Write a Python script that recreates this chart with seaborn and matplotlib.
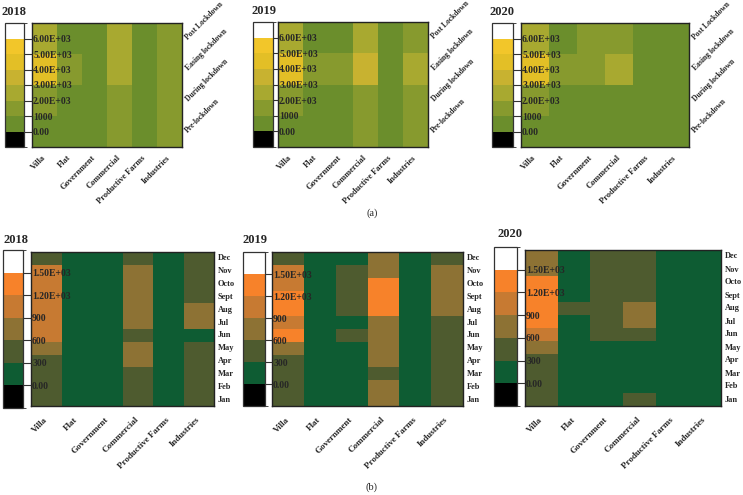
import numpy as np
import pandas as pd
import matplotlib
matplotlib.use("Agg")
import matplotlib.pyplot as plt
from matplotlib.colors import ListedColormap, BoundaryNorm
import seaborn as sns

sns.set_style("white")
plt.rcParams['font.family'] = ['Liberation Serif', 'DejaVu Serif']

# categories
uses = ["Villa", "Flat", "Government", "Commercial", "Productive Farms", "Industries"]
phases = ["Post Lockdown", "Easing lockdown", "During lockdown", "Pre-lockdown"]
months = ["Dec", "Nov", "Octo", "Sept", "Aug", "Jul", "Jun", "May", "Apr", "Mar", "Feb", "Jan"]

# (a) values per lockdown phase (rows top -> bottom)
phase_2018 = [[2500, 500, 500, 2500, 500, 1500],
              [4500, 1500, 500, 2500, 500, 1500],
              [1500, 500, 500, 1500, 500, 1500],
              [500, 500, 500, 1500, 500, 1500]]
phase_2019 = [[2500, 500, 500, 2500, 500, 1500],
              [4500, 1500, 1500, 3500, 500, 2500],
              [1500, 500, 500, 1500, 500, 1500],
              [500, 500, 500, 1500, 500, 1500]]
phase_2020 = [[2500, 500, 1500, 1500, 500, 500],
              [4500, 1500, 1500, 2500, 500, 500],
              [1500, 500, 500, 500, 500, 500],
              [500, 500, 500, 500, 500, 500]]

# (b) values per month (rows Dec -> Jan)
month_2018 = [[450, 150, 150, 450, 150, 450],
              [1050, 150, 150, 750, 150, 450],
              [1050, 150, 150, 750, 150, 450],
              [1050, 150, 150, 750, 150, 450],
              [1050, 150, 150, 750, 150, 750],
              [1050, 150, 150, 750, 150, 750],
              [1050, 150, 150, 450, 150, 150],
              [750, 150, 150, 750, 150, 450],
              [450, 150, 150, 750, 150, 450],
              [450, 150, 150, 450, 150, 450],
              [450, 150, 150, 450, 150, 450],
              [450, 150, 150, 450, 150, 450]]
month_2019 = [[450, 150, 150, 750, 150, 450],
              [1050, 150, 450, 750, 150, 750],
              [1050, 150, 450, 1350, 150, 750],
              [1350, 150, 450, 1350, 150, 750],
              [1350, 150, 450, 1350, 150, 750],
              [1050, 150, 150, 750, 150, 450],
              [1350, 150, 450, 750, 150, 450],
              [750, 150, 150, 750, 150, 450],
              [450, 150, 150, 750, 150, 450],
              [450, 150, 150, 450, 150, 450],
              [450, 150, 150, 750, 150, 450],
              [450, 150, 150, 750, 150, 450]]
month_2020 = [[750, 150, 450, 450, 150, 150],
              [750, 150, 450, 450, 150, 150],
              [1350, 150, 450, 450, 150, 150],
              [1350, 150, 450, 450, 150, 150],
              [1350, 450, 450, 750, 150, 150],
              [1350, 150, 450, 750, 150, 150],
              [1050, 150, 450, 450, 150, 150],
              [750, 150, 150, 150, 150, 150],
              [450, 150, 150, 150, 150, 150],
              [450, 150, 150, 150, 150, 150],
              [450, 150, 150, 150, 150, 150],
              [450, 150, 150, 450, 150, 150]]

# colour scales
top_colors = ['#000000', '#6b8e2c', '#879a2e', '#a8a930', '#c8b230', '#e3bf26', '#f2c62a', '#ffffff']
top_bounds = [-1000, 0, 1000, 2000, 3000, 4000, 5000, 6000, 7000]
top_ticks = [0, 1000, 2000, 3000, 4000, 5000, 6000]
top_ticklabels = ["0.00", "1000", "2.00E+03", "3.00E+03", "4.00E+03", "5.00E+03", "6.00E+03"]

bot_colors = ['#000000', '#0e5c33', '#4e5b2f', '#8d7234', '#c77a32', '#f7822a', '#ffffff']
bot_bounds = [-300, 0, 300, 600, 900, 1200, 1500, 1800]
bot_ticks = [0, 300, 600, 900, 1200, 1500]
bot_ticklabels = ["0.00", "300", "600", "900", "1.20E+03", "1.50E+03"]

W, H = 743, 495
fig = plt.figure(figsize=(W / 100, H / 100), dpi=100)


def rect(x0, y0, x1, y1):
    return [x0 / W, 1 - y1 / H, (x1 - x0) / W, (y1 - y0) / H]


def panel(hm_box, cb_box, data, rows, colors, bounds, ticks, ticklabels, title, title_xy, top):
    ax = fig.add_axes(rect(*hm_box))
    cax = fig.add_axes(rect(*cb_box))
    cmap = ListedColormap(colors)
    norm = BoundaryNorm(bounds, cmap.N)
    df = pd.DataFrame(data, index=rows, columns=uses)
    sns.heatmap(df, ax=ax, cbar_ax=cax, cmap=cmap, norm=norm,
                xticklabels=True, yticklabels=True)
    for s in ax.spines.values():
        s.set_visible(True)
        s.set_color('#222222')
        s.set_linewidth(1.0)
    ax.yaxis.tick_right()
    if top:
        ax.set_xticklabels(uses, rotation=45, ha='right', va='center',
                           rotation_mode='anchor', fontsize=6, fontweight='bold')
        ax.set_yticklabels(rows, rotation=45, ha='left', va='center',
                           rotation_mode='anchor', fontsize=5.5, fontweight='bold')
        ax.tick_params(axis='y', length=0, pad=3.5)
        ax.tick_params(axis='x', length=0, pad=7)
    else:
        ax.set_xticklabels(uses, rotation=45, ha='right', va='center',
                           rotation_mode='anchor', fontsize=6.5, fontweight='bold')
        ax.set_yticklabels(rows, rotation=0, ha='left', va='center',
                           fontsize=6, fontweight='bold')
        ax.tick_params(axis='y', length=0, pad=2.5)
        ax.tick_params(axis='x', length=0, pad=9)
    ax.set_xlabel("")
    ax.set_ylabel("")

    cb = ax.collections[0].colorbar
    cb.outline.set_linewidth(0.9)
    cb.outline.set_edgecolor('#333333')
    cb.set_ticks(ticks, labels=ticklabels)
    gap_pt = (hm_box[0] - cb_box[2]) * 72 / 100
    cax.tick_params(length=gap_pt, width=0.8, color='#333333', pad=0.8,
                    labelsize=7)
    for t in cax.get_yticklabels():
        t.set_fontweight('bold')
    fig.text(title_xy[0] / W, 1 - title_xy[1] / H, title, fontsize=9,
             fontweight='bold', ha='left', va='center')


# (a) lockdown phases
panel((32, 23, 182, 147), (5, 23, 24, 147), phase_2018, phases, top_colors,
      top_bounds, top_ticks, top_ticklabels, "2018", (2, 12), True)
panel((278, 22, 428, 147), (253, 22, 273, 147), phase_2019, phases, top_colors,
      top_bounds, top_ticks, top_ticklabels, "2019", (251, 11), True)
panel((521, 23, 689, 147), (492, 23, 513, 147), phase_2020, phases, top_colors,
      top_bounds, top_ticks, top_ticklabels, "2020", (489, 12), True)

# (b) months
panel((31, 252, 214, 406), (3, 250, 23, 408), month_2018, months, bot_colors,
      bot_bounds, bot_ticks, bot_ticklabels, "2018", (3, 240), False)
panel((272, 252, 463, 406), (243, 252, 265, 406), month_2019, months, bot_colors,
      bot_bounds, bot_ticks, bot_ticklabels, "2019", (242, 240), False)
panel((525, 250, 721, 406), (494, 247, 517, 406), month_2020, months, bot_colors,
      bot_bounds, bot_ticks, bot_ticklabels, "2020", (497, 234), False)

fig.text(372 / W, 1 - 213 / H, "(a)", fontsize=7.5, ha='center', va='center')
fig.text(372 / W, 1 - 487 / H, "(b)", fontsize=7.5, ha='center', va='center')

fig.savefig("out.png", dpi=100)
